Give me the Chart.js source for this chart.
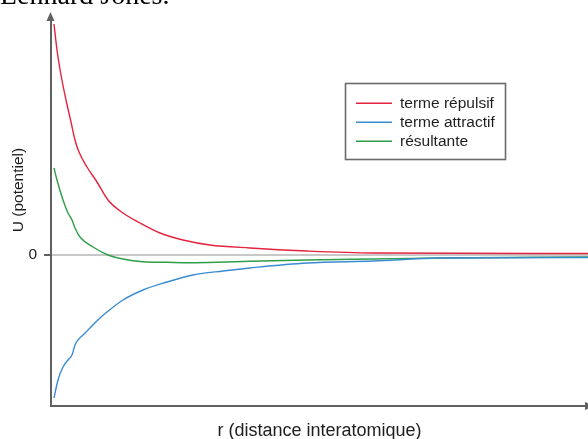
<!DOCTYPE html>
<html>
<head>
<meta charset="utf-8">
<style>
  html, body { margin: 0; padding: 0; background: #ffffff; }
  #wrap { position: relative; width: 588px; height: 439px; overflow: hidden; }
  canvas { display: block; }
</style>
<script src="https://cdn.jsdelivr.net/npm/chart.js@4/dist/chart.umd.min.js"></script>
</head>
<body>
<div id="wrap"><canvas id="lj" width="588" height="439"></canvas></div>
<script>
// Lennard-Jones potential: repulsive term, attractive term and their sum
const seriesLabels = ['terme répulsif', 'terme attractif', 'résultante'];
const seriesColors = ['#e3233d', '#3a8bd0', '#2e9e47'];

const rRepulsif = [0.03, 0.06, 0.10, 0.15, 0.20, 0.24, 0.28, 0.36, 0.46, 0.57, 0.72, 0.89, 1.09, 1.32, 1.59, 1.99, 2.56, 3.22, 5.37];
const uRepulsif = [2.31, 2.05, 1.80, 1.55, 1.33, 1.15, 1.03, 0.88, 0.73, 0.55, 0.42, 0.32, 0.22, 0.15, 0.10, 0.07, 0.04, 0.02, 0.015];

const rAttractif = [0.03, 0.07, 0.12, 0.17, 0.21, 0.24, 0.27, 0.32, 0.39, 0.49, 0.56, 0.72, 0.92, 1.16, 1.42, 1.72, 1.99, 2.56, 3.22, 3.89, 5.37];
const uAttractif = [-1.43, -1.25, -1.12, -1.05, -1.00, -0.90, -0.85, -0.80, -0.73, -0.63, -0.57, -0.45, -0.35, -0.27, -0.20, -0.16, -0.13, -0.08, -0.06, -0.03, -0.025];

const rResultante = [0.03, 0.06, 0.12, 0.17, 0.21, 0.24, 0.29, 0.42, 0.57, 0.72, 0.92, 1.16, 1.39, 1.66, 1.99, 2.56, 3.22, 3.89, 5.37];
const uResultante = [0.87, 0.75, 0.55, 0.42, 0.35, 0.27, 0.18, 0.08, 0.00, -0.04, -0.067, -0.073, -0.077, -0.073, -0.063, -0.05, -0.04, -0.03, -0.02];

const yTickValues = [0];
const yTickLabels = ['0'];

const titleText = 'Lennard Jones.';
const xTitle = 'r (distance interatomique)';
const yTitle = 'U (potentiel)';

const AXIS = '#606060';
const TEXT = '#1e1e1e';

function points(xs, ys) {
  return xs.map((x, i) => ({ x: x, y: ys[i] }));
}

// Heading, axis arrows, rotated y title and the framed legend
const decorations = {
  id: 'decorations',
  afterDraw(chart) {
    const ctx = chart.ctx;
    const area = chart.chartArea;
    ctx.save();

    // heading, partly above the canvas top
    ctx.fillStyle = '#000';
    ctx.font = '28px "Liberation Serif", "Times New Roman", serif';
    ctx.textAlign = 'left';
    ctx.textBaseline = 'alphabetic';
    ctx.fillText(titleText, 0, 4);

    // arrow heads on both axes
    ctx.fillStyle = AXIS;
    ctx.beginPath();
    ctx.moveTo(area.left - 4.5, area.top + 1);
    ctx.lineTo(area.left + 3.5, area.top + 1);
    ctx.lineTo(area.left - 0.5, area.top - 8);
    ctx.closePath();
    ctx.fill();
    ctx.beginPath();
    ctx.moveTo(area.right - 3, area.bottom - 4);
    ctx.lineTo(area.right - 3, area.bottom + 4);
    ctx.lineTo(area.right + 6, area.bottom);
    ctx.closePath();
    ctx.fill();

    // y axis title
    ctx.fillStyle = TEXT;
    ctx.font = '15.5px "Liberation Sans", Arial, sans-serif';
    ctx.translate(18.5, 190);
    ctx.rotate(-Math.PI / 2);
    ctx.textAlign = 'center';
    ctx.textBaseline = 'middle';
    ctx.fillText(yTitle, 0, 0);
    ctx.setTransform(1, 0, 0, 1, 0, 0);

    // legend box
    const bx = 345.5, by = 83.5, bw = 160, bh = 76;
    ctx.fillStyle = '#ffffff';
    ctx.fillRect(bx, by, bw, bh);
    ctx.strokeStyle = '#6a6a6a';
    ctx.lineWidth = 1.6;
    ctx.strokeRect(bx, by, bw, bh);
    ctx.font = '15.5px "Liberation Sans", Arial, sans-serif';
    ctx.textAlign = 'left';
    ctx.textBaseline = 'middle';
    chart.data.datasets.forEach((ds, i) => {
      const y = 103.3 + i * 19;
      ctx.strokeStyle = ds.borderColor;
      ctx.lineWidth = 1.5;
      ctx.beginPath();
      ctx.moveTo(356, y);
      ctx.lineTo(392, y);
      ctx.stroke();
      ctx.fillStyle = TEXT;
      ctx.fillText(ds.label, 400, y + 0.5);
    });
    ctx.restore();
  }
};

new Chart(document.getElementById('lj'), {
  type: 'line',
  data: {
    datasets: [
      { label: seriesLabels[0], data: points(rRepulsif, uRepulsif), borderColor: seriesColors[0] },
      { label: seriesLabels[1], data: points(rAttractif, uAttractif), borderColor: seriesColors[1] },
      { label: seriesLabels[2], data: points(rResultante, uResultante), borderColor: seriesColors[2] }
    ]
  },
  options: {
    responsive: false,
    animation: false,
    events: [],
    layout: { padding: { top: 20, right: 0, left: 0, bottom: 0 } },
    elements: {
      line: { borderWidth: 1.4, fill: false, cubicInterpolationMode: 'monotone' },
      point: { radius: 0 }
    },
    plugins: {
      legend: { display: false },
      tooltip: { enabled: false },
      title: { display: false }
    },
    scales: {
      x: {
        type: 'linear',
        min: 0,
        max: 5.37,
        ticks: { display: false },
        grid: { display: false },
        border: { display: true, color: AXIS, width: 2 },
        title: {
          display: true,
          text: xTitle,
          color: TEXT,
          font: { family: '"Liberation Sans", Arial, sans-serif', size: 18, lineHeight: 0.8 },
          padding: { top: 0, bottom: 1 }
        },
        afterFit(scale) { scale.height = 33; }
      },
      y: {
        type: 'linear',
        min: -1.51,
        max: 2.35,
        afterBuildTicks(axis) { axis.ticks = yTickValues.map(v => ({ value: v })); },
        ticks: {
          color: TEXT,
          padding: 7,
          font: { family: '"Liberation Sans", Arial, sans-serif', size: 15.5 },
          callback(value) {
            const i = yTickValues.indexOf(value);
            return i >= 0 ? yTickLabels[i] : '';
          }
        },
        grid: { color: '#c8c8c8', lineWidth: 2, tickColor: AXIS, tickLength: 7, tickWidth: 2 },
        border: { display: true, color: AXIS, width: 2 },
        afterFit(scale) { scale.width = 51; }
      }
    }
  },
  plugins: [decorations]
});
</script>
</body>
</html>
